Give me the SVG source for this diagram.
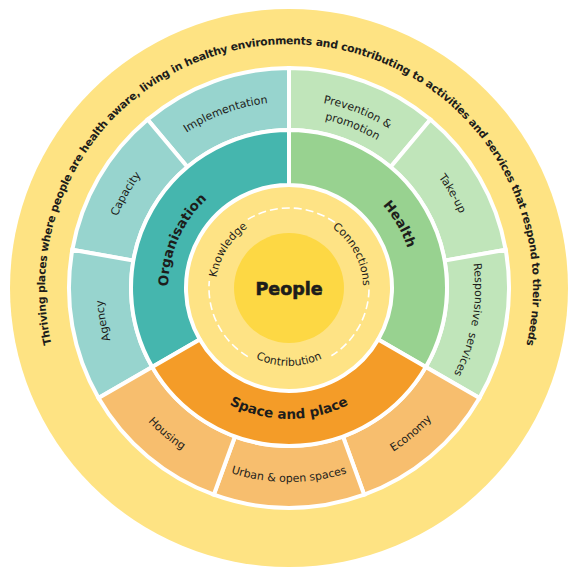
<svg xmlns="http://www.w3.org/2000/svg" width="577" height="577" viewBox="0 0 577 577">
<style>
.seg{stroke:#fff;stroke-width:4;stroke-linejoin:miter}
.t{font-family:"DejaVu Sans",sans-serif;fill:#1d1d1b}
.lbl{font-size:11px}
.bold{font-weight:bold;font-size:13.5px}
.vis{font-weight:bold;font-size:10.8px}
.dash{fill:none;stroke:#fff;stroke-width:1.6;stroke-dasharray:8 4}
</style>
<defs>
<path id="p-vision" d="M 52.2,347 A 244 244 0 1 1 525.8,347"/>
<path id="p-impl" d="M 105.8,255.7 A 186 186 0 0 1 408.6,145.5"/>
<path id="p-cap" d="M 127.9,381 A 186 186 0 0 1 289,102"/>
<path id="p-agency" d="M 225.4,462.8 A 186 186 0 0 1 169.4,145.5"/>
<path id="p-prev1" d="M 323.3,103.1 A 188 188 0 0 1 451.8,382"/>
<path id="p-prev2" d="M 324.8,119.8 A 172 172 0 0 1 438,374"/>
<path id="p-take" d="M 289,102 A 186 186 0 0 1 450.1,381"/>
<path id="p-resp" d="M 408.6,145.5 A 186 186 0 0 1 352.6,462.8"/>
<path id="p-housing" d="M 97.9,254.3 A 194 194 0 0 0 355.4,470.3"/>
<path id="p-urban" d="M 121,385 A 194 194 0 0 0 457,385"/>
<path id="p-economy" d="M 222.6,470.3 A 194 194 0 0 0 480.1,254.3"/>
<path id="p-org" d="M 191.1,359.1 A 121 121 0 0 1 276.4,167.7"/>
<path id="p-health" d="M 289,163 A 125 125 0 0 1 397.3,350.5"/>
<path id="p-space" d="M 175.6,353.5 A 131 131 0 0 0 402.4,353.5"/>
<path id="p-know" d="M 224.5,322.3 A 73 73 0 0 1 291.5,215"/>
<path id="p-conn" d="M 291.6,214 A 74 74 0 0 1 351.8,327.2"/>
<path id="p-contrib" d="M 221.5,327 A 78 78 0 0 0 356.5,327"/>
</defs>
<rect width="577" height="577" fill="#fff"/>

<g id="vision">
<circle cx="289" cy="288" r="279" fill="#FEE383"/>
<text class="t vis"><textPath href="#p-vision" startOffset="2.9" textLength="129.2" lengthAdjust="spacing">Thriving places where</textPath></text>
<text class="t vis"><textPath href="#p-vision" startOffset="135.8" textLength="103.5" lengthAdjust="spacing">people are health</textPath></text>
<text class="t vis"><textPath href="#p-vision" startOffset="242.9" textLength="90.3" lengthAdjust="spacing">aware, living in</textPath></text>
<text class="t vis"><textPath href="#p-vision" startOffset="336.8" textLength="128.6" lengthAdjust="spacing">healthy environments</textPath></text>
<text class="t vis"><textPath href="#p-vision" startOffset="469.0" textLength="113.8" lengthAdjust="spacing">and contributing to</textPath></text>
<text class="t vis"><textPath href="#p-vision" startOffset="586.4" textLength="79.3" lengthAdjust="spacing">activities and</textPath></text>
<text class="t vis"><textPath href="#p-vision" startOffset="669.3" textLength="48.1" lengthAdjust="spacing">services</textPath></text>
<text class="t vis"><textPath href="#p-vision" startOffset="721.0" textLength="161.9" lengthAdjust="spacing">that respond to their needs</textPath></text>
</g>

<g id="implementation">
<path class="seg" fill="#97D4CE" d="M 147.6,119.5 A 220 220 0 0 1 289,68 L 289,130 A 158 158 0 0 0 187.4,167 Z"/>
<text class="t lbl" text-anchor="middle"><textPath href="#p-impl" startOffset="50%">Implementation</textPath></text>
</g>
<g id="capacity">
<path class="seg" fill="#97D4CE" d="M 72.3,249.8 A 220 220 0 0 1 147.6,119.5 L 187.4,167 A 158 158 0 0 0 133.4,260.6 Z"/>
<text class="t lbl" text-anchor="middle"><textPath href="#p-cap" startOffset="50%">Capacity</textPath></text>
</g>
<g id="agency">
<path class="seg" fill="#97D4CE" d="M 98.5,398 A 220 220 0 0 1 72.3,249.8 L 133.4,260.6 A 158 158 0 0 0 152.2,367 Z"/>
<text class="t lbl" text-anchor="middle"><textPath href="#p-agency" startOffset="50%">Agency</textPath></text>
</g>
<g id="prevention">
<path class="seg" fill="#C0E5BA" d="M 289,68 A 220 220 0 0 1 430.4,119.5 L 390.6,167 A 158 158 0 0 0 289,130 Z"/>
<text class="t lbl"><textPath href="#p-prev1">Prevention &amp;</textPath><textPath href="#p-prev2">promotion</textPath></text>
</g>
<g id="take-up">
<path class="seg" fill="#C0E5BA" d="M 430.4,119.5 A 220 220 0 0 1 505.7,249.8 L 444.6,260.6 A 158 158 0 0 0 390.6,167 Z"/>
<text class="t lbl" text-anchor="middle"><textPath href="#p-take" startOffset="50%">Take-up</textPath></text>
</g>
<g id="responsive">
<path class="seg" fill="#C0E5BA" d="M 505.7,249.8 A 220 220 0 0 1 479.5,398 L 425.8,367 A 158 158 0 0 0 444.6,260.6 Z"/>
<text class="t lbl" text-anchor="middle" word-spacing="3"><textPath href="#p-resp" startOffset="50%">Responsive services</textPath></text>
</g>
<g id="economy">
<path class="seg" fill="#F7BE6E" d="M 479.5,398 A 220 220 0 0 1 364.2,494.7 L 343,436.5 A 158 158 0 0 0 425.8,367 Z"/>
<text class="t lbl" text-anchor="middle"><textPath href="#p-economy" startOffset="50%">Economy</textPath></text>
</g>
<g id="urban">
<path class="seg" fill="#F7BE6E" d="M 364.2,494.7 A 220 220 0 0 1 213.8,494.7 L 235,436.5 A 158 158 0 0 0 343,436.5 Z"/>
<text class="t lbl" text-anchor="middle"><textPath href="#p-urban" startOffset="50%">Urban &amp; open spaces</textPath></text>
</g>
<g id="housing">
<path class="seg" fill="#F7BE6E" d="M 213.8,494.7 A 220 220 0 0 1 98.5,398 L 152.2,367 A 158 158 0 0 0 235,436.5 Z"/>
<text class="t lbl" text-anchor="middle"><textPath href="#p-housing" startOffset="50%">Housing</textPath></text>
</g>

<g id="inner-disc">
<circle cx="289" cy="288" r="103" fill="#FEE385"/>
</g>

<g id="organisation">
<path class="seg" fill="#45B6AE" d="M 152.2,367 A 158 158 0 0 1 289,130 L 289,185 A 103 103 0 0 0 199.8,339.5 Z"/>
<text class="t bold" text-anchor="middle"><textPath href="#p-org" startOffset="50%">Organisation</textPath></text>
</g>
<g id="health">
<path class="seg" fill="#98D290" d="M 289,130 A 158 158 0 0 1 425.8,367 L 378.2,339.5 A 103 103 0 0 0 289,185 Z"/>
<text class="t bold" text-anchor="middle"><textPath href="#p-health" startOffset="50%">Health</textPath></text>
</g>
<g id="space-and-place">
<path class="seg" fill="#F49C28" d="M 425.8,367 A 158 158 0 0 1 152.2,367 L 199.8,339.5 A 103 103 0 0 0 378.2,339.5 Z"/>
<text class="t bold" text-anchor="middle"><textPath href="#p-space" startOffset="50%">Space and place</textPath></text>
</g>

<g id="dashed-ring">
<path class="dash" d="M 247.8,356.6 A 80 80 0 0 1 209.3,281"/>
<path class="dash" d="M 247.8,219.4 A 80 80 0 0 1 334.9,222.5"/>
<path class="dash" d="M 369,289.4 A 80 80 0 0 1 331.4,355.8"/>
</g>
<g id="knowledge">
<text class="t lbl" text-anchor="middle"><textPath href="#p-know" startOffset="50%">Knowledge</textPath></text>
</g>
<g id="connections">
<text class="t lbl" text-anchor="middle"><textPath href="#p-conn" startOffset="50%">Connections</textPath></text>
</g>
<g id="contribution">
<text class="t lbl" text-anchor="middle"><textPath href="#p-contrib" startOffset="50%">Contribution</textPath></text>
</g>

<g id="people">
<circle cx="289" cy="288" r="55" fill="#FDD844"/>
<text class="t" x="289" y="294.5" text-anchor="middle" font-weight="bold" font-size="17.5" stroke="#1d1d1b" stroke-width="0.6">People</text>
</g>
</svg>
